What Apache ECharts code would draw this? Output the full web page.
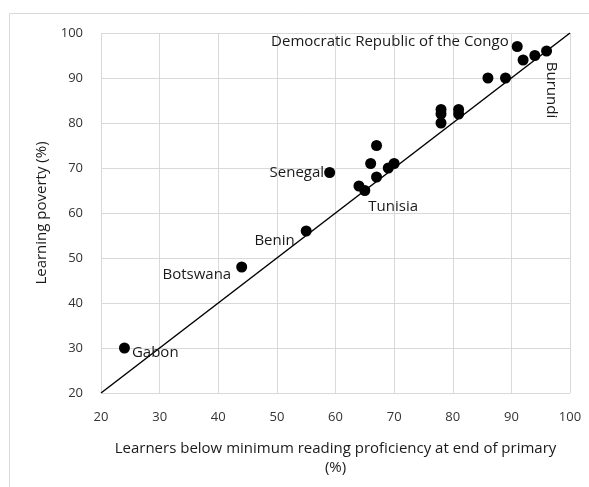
<!DOCTYPE html>
<html>
<head>
<meta charset="utf-8">
<script src="https://cdn.jsdelivr.net/npm/echarts@6/dist/echarts.min.js"></script>
<style>
html,body{margin:0;padding:0;background:#fff;}
#chart{width:589px;height:487px;}
</style>
</head>
<body>
<div id="chart"></div>
<script>
// Data
var xVals = [24, 44, 55, 59, 64, 65, 66, 67, 67, 69, 70, 78, 78, 78, 81, 81, 86, 89, 91, 92, 94, 96];
var yVals = [30, 48, 56, 69, 66, 65, 71, 75, 68, 70, 71, 83, 82, 80, 83, 82, 90, 90, 97, 94, 95, 96];
var pointNames = ['Gabon', 'Botswana', 'Benin', 'Senegal', '', 'Tunisia', '', '', '', '', '', '', '', '', '', '', '', '', 'Democratic Republic of the Congo', '', '', 'Burundi'];
var lineX = [20, 100];
var lineY = [20, 100];
var xTicks = [20, 30, 40, 50, 60, 70, 80, 90, 100];
var yTicks = [20, 30, 40, 50, 60, 70, 80, 90, 100];
var xTitle = 'Learners below minimum reading proficiency at end of primary\n(%)';
var yTitle = 'Learning poverty (%)';

var FONT = 'Open Sans';
var labelStyles = {
  'Gabon': {position: 'right', distance: 2, offset: [0, 5]},
  'Botswana': {position: 'left', distance: 5, offset: [0, 8]},
  'Benin': {position: 'left', distance: 6, offset: [0, 10]},
  'Senegal': {position: 'left', distance: 0, offset: [0, 0]},
  'Tunisia': {position: 'right', distance: 0, offset: [-2, 16]},
  'Democratic Republic of the Congo': {position: 'left', distance: 3, offset: [0, -5]},
  'Burundi': {position: 'inside', align: 'center', verticalAlign: 'middle', offset: [39, -5], rotate: -90}
};

var pts = xVals.map(function (x, i) {
  var d = {value: [x, yVals[i]]};
  var nm = pointNames[i];
  if (nm) {
    var s = labelStyles[nm];
    d.label = Object.assign({show: true, formatter: nm, color: '#1a1a1a', fontFamily: FONT, fontSize: 15}, s);
  }
  return d;
});

var chart = echarts.init(document.getElementById('chart'), null, {renderer: 'canvas'});
chart.setOption({
  animation: false,
  backgroundColor: '#fff',
  graphic: [{
    type: 'rect', left: 9, top: 13, silent: true, z: -10,
    shape: {x: 0, y: 0, width: 620, height: 520},
    style: {fill: '#fff', stroke: '#d9d9d9', lineWidth: 1}
  }],
  grid: {left: 101, right: 19, top: 33, bottom: 94, containLabel: false},
  xAxis: {
    type: 'value', min: xTicks[0], max: xTicks[xTicks.length - 1], interval: 10,
    name: xTitle, nameLocation: 'middle', nameGap: 46,
    nameTextStyle: {color: '#1a1a1a', fontFamily: FONT, fontSize: 15, lineHeight: 19},
    axisLine: {show: false}, axisTick: {show: false},
    axisLabel: {color: '#333', fontFamily: FONT, fontSize: 13, margin: 18},
    splitLine: {show: true, lineStyle: {color: '#d9d9d9', width: 1}}
  },
  yAxis: {
    type: 'value', min: yTicks[0], max: yTicks[yTicks.length - 1], interval: 10,
    name: yTitle, nameLocation: 'middle', nameGap: 52,
    nameTextStyle: {color: '#1a1a1a', fontFamily: FONT, fontSize: 15},
    axisLine: {show: false}, axisTick: {show: false},
    axisLabel: {color: '#333', fontFamily: FONT, fontSize: 13, margin: 18},
    splitLine: {show: true, lineStyle: {color: '#d9d9d9', width: 1}}
  },
  series: [{
    type: 'line',
    data: lineX.map(function (x, i) { return [x, lineY[i]]; }),
    showSymbol: false, symbol: 'none',
    lineStyle: {color: '#000', width: 1.5},
    z: 2, silent: true
  }, {
    type: 'scatter',
    data: pts,
    symbol: 'circle', symbolSize: 11,
    itemStyle: {color: '#000', opacity: 1},
    z: 3
  }]
});
</script>
</body>
</html>
